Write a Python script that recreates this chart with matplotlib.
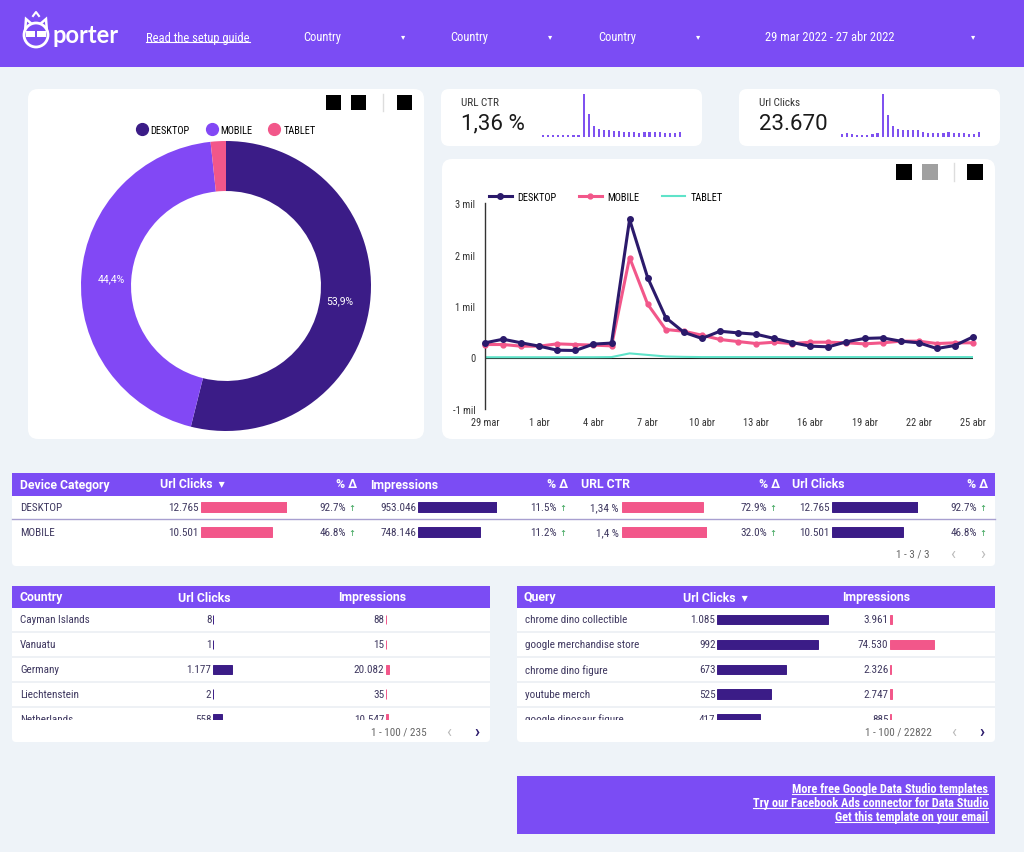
import matplotlib
matplotlib.use('Agg')
import matplotlib.pyplot as plt
from matplotlib import font_manager
from matplotlib.patches import FancyBboxPatch, Rectangle, Circle, Polygon
from matplotlib.lines import Line2D
from matplotlib.ticker import FuncFormatter

W, H = 1024, 853

PURPLE = '#7b4cf4'
BG = '#eef3f8'
DARK = '#3b1c87'
MOB = '#8248f5'
PINK = '#f2578a'
NAVY = '#2b1a6b'
CYAN = '#5fe3c9'
TXT = '#3f3860'
GREEN = '#2e9e4f'

_names = {f.name for f in font_manager.fontManager.ttflist}
COND = next((f for f in ['Roboto Condensed', 'Liberation Sans Narrow'] if f in _names), 'Roboto')
CONDF = [COND, 'DejaVu Sans']
plt.rcParams['font.family'] = ['Roboto', 'DejaVu Sans']

# ---- data ----
FILTERS = ['Country', 'Country', 'Country']
DATE_RANGE = '29 mar 2022 - 27 abr 2022'

DEVICES = ['DESKTOP', 'MOBILE', 'TABLET']
DEVICE_SHARE = [53.9, 44.4, 1.7]

KPI_CTR = 1.36
KPI_CLICKS = 23670
CTR_DAILY = [0.35, 0.4, 0.35, 0.3, 0.3, 0.3, 0.3, 0.4, 6.9, 3.7, 1.7, 1.3, 1.1, 1.1,
             1.0, 0.9, 0.85, 0.75, 0.75, 0.7, 0.75, 0.85, 0.8, 0.75, 0.7, 0.6, 0.6, 0.85]
CLICKS_DAILY = [320, 400, 320, 240, 240, 240, 320, 400, 4700, 2400, 1200, 880, 720, 800,
                720, 720, 560, 480, 400, 400, 480, 560, 480, 480, 400, 320, 320, 560]

DAY_LABELS = ['29 mar', '1 abr', '4 abr', '7 abr', '10 abr', '13 abr', '16 abr',
              '19 abr', '22 abr', '25 abr']
DESKTOP = [285, 355, 285, 220, 142, 136, 260, 280, 2680, 1550, 775, 490, 370, 510,
           478, 452, 370, 290, 220, 207, 305, 370, 381, 317, 285, 175, 233, 400]
MOBILE = [252, 252, 220, 220, 265, 252, 240, 226, 1940, 1035, 543, 510, 433, 350,
          310, 271, 297, 271, 297, 297, 285, 265, 285, 317, 317, 271, 285, 285]
TABLET = [5, 5, 5, 5, 5, 5, 5, 8, 80, 50, 20, 12, 8, 8,
          8, 8, 8, 8, 8, 8, 8, 8, 8, 8, 8, 8, 8, 8]

DEV_ROWS = ['DESKTOP', 'MOBILE']
DEV_CLICKS = [12765, 10501]
DEV_CLICKS_D = [92.7, 46.8]
DEV_IMPR = [953046, 748146]
DEV_IMPR_D = [11.5, 11.2]
DEV_CTR = [1.34, 1.4]
DEV_CTR_D = [72.9, 32.0]

COUNTRIES = ['Cayman Islands', 'Vanuatu', 'Germany', 'Liechtenstein', 'Netherlands']
COUNTRY_CLICKS = [8, 1, 1177, 2, 558]
COUNTRY_IMPR = [88, 15, 20082, 35, 10547]
COUNTRY_CLICK_SCALE = 6100
COUNTRY_IMPR_SCALE = 608000

QUERIES = ['chrome dino collectible', 'google merchandise store', 'chrome dino figure',
           'youtube merch', 'google dinosaur figure']
QUERY_CLICKS = [1085, 992, 673, 525, 417]
QUERY_IMPR = [3961, 74530, 2326, 2747, 885]
QUERY_IMPR_SCALE = 169400

LINKS = ['More free Google Data Studio templates',
         'Try our Facebook Ads connector for Data Studio',
         'Get this template on your email']


def fmt_int(v):
    return f'{v:,}'.replace(',', '.')


def fmt_ctr(v):
    return f'{v:g} %'.replace('.', ',')


fig = plt.figure(figsize=(W / 100, H / 100), dpi=100)
fig.patch.set_facecolor(BG)
page = fig.add_axes([0, 0, 1, 1])
page.set_xlim(0, W)
page.set_ylim(H, 0)
page.axis('off')


def px_axes(x, y, w, h):
    return fig.add_axes([x / W, 1 - (y + h) / H, w / W, h / H])


def card(x, y, w, h, r=8, fc='white'):
    page.add_patch(FancyBboxPatch((x + r, y + r), w - 2 * r, h - 2 * r,
                                  boxstyle=f'round,pad={r}', fc=fc, ec='none'))


def bar_col(x, w, top, bottom, ys, vals, vmax, color, h):
    ax = px_axes(x - 2, top, w + 2, bottom - top)
    ax.set_xlim(-2 * vmax / w, vmax)
    ax.set_ylim(bottom, top)
    ax.barh(ys, vals, height=h, color=color, ec=color, lw=0.7)
    ax.axis('off')
    return ax


UNDERLINED = []

# ---- header ----
page.add_patch(Rectangle((0, 0), W, 68, fc=PURPLE, ec='none'))
page.add_patch(Polygon([(25, 33), (26, 20), (33, 26), (39, 26), (46, 20), (47, 33)],
                       fc=PURPLE, ec='white', lw=1.8))
page.add_patch(Circle((36, 36), 12, fc=PURPLE, ec='white', lw=2))
page.add_patch(Rectangle((26, 32), 9, 6, fc='white', ec='none'))
page.add_patch(Rectangle((37, 32), 9, 6, fc='white', ec='none'))
page.plot([33, 36, 39], [17, 13, 17], color='white', lw=1.5)
page.text(52, 35, 'porter', color='white', fontsize=17, fontweight='bold',
          family=['Lato', 'DejaVu Sans'], va='center', ha='left')
UNDERLINED.append(page.text(146, 38, 'Read the setup guide', color='white', fontsize=9,
                            family=CONDF, va='center'))
for x, label in zip([303, 450, 598], FILTERS):
    page.text(x, 37, label, color='white', fontsize=9, family=CONDF, va='center')
    page.text(x + 100, 37, '▾', color='white', fontsize=6, family=['DejaVu Sans'],
              va='center', ha='center')
page.text(765, 37, DATE_RANGE, color='white', fontsize=9, family=CONDF, va='center')
page.text(973, 37, '▾', color='white', fontsize=6, family=['DejaVu Sans'],
          va='center', ha='center')

# ---- cards ----
card(28, 90, 396, 350, r=10)
card(441, 90, 261, 57, r=8)
card(739, 90, 261, 57, r=8)
card(442, 160, 553, 280, r=10)

for x in (326, 351, 397):
    page.add_patch(Rectangle((x, 96), 15, 15, fc='black'))
page.plot([383, 383], [95, 112], color='#dddddd', lw=1)
for x, c in ((896, 'black'), (922, '#a0a0a0'), (967, 'black')):
    page.add_patch(Rectangle((x, 165), 16, 16, fc=c))
page.plot([954, 954], [164, 182], color='#dddddd', lw=1)

# ---- donut ----
dax = px_axes(81, 142, 290, 290)
dax.pie(DEVICE_SHARE, colors=[DARK, MOB, PINK], startangle=90, counterclock=False,
        wedgeprops=dict(width=0.345, linewidth=0),
        autopct=lambda p: f'{p:.1f}%'.replace('.', ',') if p > 5 else '',
        pctdistance=0.79, textprops=dict(color='white', fontsize=7.5))
dax.set_xlim(-1, 1)
dax.set_ylim(-1, 1)
handles = [Line2D([], [], ls='', marker='o', ms=8.5, color=c) for c in (DARK, MOB, PINK)]
dax.legend(handles, DEVICES, loc='center', bbox_to_anchor=(0.5, 1 + 11 / 290), ncol=3,
           frameon=False, handletextpad=0.35, columnspacing=1.6, handlelength=1,
           prop={'family': CONDF, 'size': 7.5})

# ---- KPI cards ----
page.text(461, 103, 'URL CTR', fontsize=8, color='#333333', va='center', family=CONDF)
page.text(461, 124, fmt_ctr(KPI_CTR), fontsize=16, color='#1a1a1a', va='center')
page.text(759, 103, 'Url Clicks', fontsize=8, color='#333333', va='center', family=CONDF)
page.text(759, 124, fmt_int(KPI_CLICKS), fontsize=16, color='#1a1a1a', va='center')

for (x, vals) in ((540, CTR_DAILY), (839, CLICKS_DAILY)):
    sx = px_axes(x, 95, 143, 43)
    sx.bar(range(len(vals)), vals, width=0.42, color='#7f52f0')
    sx.set_xlim(-0.6, len(vals) - 0.4)
    sx.set_ylim(0, max(vals))
    sx.axis('off')

# ---- line chart ----
lx = px_axes(485, 204, 488, 206)
lx.patch.set_alpha(0)
days = range(len(DESKTOP))
lx.axhline(0, color='#222222', lw=0.8, zorder=1)
lx.plot(days, DESKTOP, color=NAVY, lw=2.2, marker='o', ms=4, label='DESKTOP',
        clip_on=False, zorder=4)
lx.plot(days, MOBILE, color=PINK, lw=2.2, marker='o', ms=3.5, label='MOBILE',
        clip_on=False, zorder=3)
lx.plot(days, TABLET, color=CYAN, lw=1.5, label='TABLET', zorder=2)
lx.set_xlim(0, len(DESKTOP) - 1)
lx.set_ylim(-1000, 3000)
lx.set_yticks([-1000, 0, 1000, 2000, 3000])
lx.yaxis.set_major_formatter(FuncFormatter(lambda v, _: '0' if v == 0 else f'{v / 1000:.0f} mil'))
lx.set_xticks(range(0, len(DESKTOP), 3), DAY_LABELS)
lx.tick_params(axis='y', length=0, labelsize=7.5, pad=7, labelcolor='#333333')
lx.tick_params(axis='x', length=0, labelsize=7.5, pad=6, labelcolor='#333333')
for lab in lx.get_xticklabels() + lx.get_yticklabels():
    lab.set_family(CONDF)
for s in ('top', 'right', 'bottom'):
    lx.spines[s].set_visible(False)
lx.spines['left'].set_color('#333333')
lx.spines['left'].set_linewidth(1)
lx.legend(loc='lower left', bbox_to_anchor=(-0.005, 0.975), ncol=3, frameon=False,
          handlelength=2.2, handletextpad=0.5, columnspacing=2.2, borderaxespad=0.2,
          prop={'family': CONDF, 'size': 7.5})

# ---- device table ----
card(12, 474, 983, 93, r=4)
page.add_patch(Rectangle((12, 474), 983, 23, fc=PURPLE, ec='none'))
HEAD_KW = dict(color='white', fontsize=8.8, fontweight='bold', va='center')
for label, x, ha in (('Device Category', 20, 'left'), ('Url Clicks  ▾', 160, 'left'),
                     ('% Δ', 357, 'right'), ('Impressions', 370, 'left'),
                     ('% Δ', 568, 'right'), ('URL CTR', 581, 'left'),
                     ('% Δ', 780, 'right'), ('Url Clicks', 792, 'left'),
                     ('% Δ', 988, 'right')):
    page.text(x, 485, label, ha=ha, **HEAD_KW)

ROW_KW = dict(color=TXT, fontsize=8, va='center', family=CONDF)
DEV_Y = [508, 533]


def delta(x, y, v):
    page.text(x, y, f'{v:.1f}%', ha='right', **ROW_KW)
    page.text(x + 6, y + 0.5, '↑', ha='center', color=GREEN, fontsize=6, va='center',
              family=['DejaVu Sans'])


for i, name in enumerate(DEV_ROWS):
    y = DEV_Y[i]
    page.text(20, y, name, ha='left', **ROW_KW)
    page.text(199, y, fmt_int(DEV_CLICKS[i]), ha='right', **ROW_KW)
    delta(346, y, DEV_CLICKS_D[i])
    page.text(416, y, fmt_int(DEV_IMPR[i]), ha='right', **ROW_KW)
    delta(557, y, DEV_IMPR_D[i])
    page.text(619, y, fmt_ctr(DEV_CTR[i]), ha='right', **ROW_KW)
    delta(767, y, DEV_CTR_D[i])
    page.text(830, y, fmt_int(DEV_CLICKS[i]), ha='right', **ROW_KW)
    delta(977, y, DEV_CLICKS_D[i])
page.plot([12, 995], [520, 520], color='#a89fd0', lw=1)
page.text(930, 555, '1 - 3 / 3', ha='right', va='center', color='#666666', fontsize=8,
          family=CONDF)
page.text(953, 555, '‹', ha='center', va='center', color='#bbbbbb', fontsize=12)
page.text(983, 555, '›', ha='center', va='center', color='#bbbbbb', fontsize=12)

bar_col(201, 86, 496, 546, DEV_Y, DEV_CLICKS, max(DEV_CLICKS), PINK, 10)
bar_col(418, 79, 496, 546, DEV_Y, DEV_IMPR, max(DEV_IMPR), DARK, 10)
bar_col(622, 85, 496, 546, DEV_Y, DEV_CTR, max(DEV_CTR), PINK, 10)
bar_col(832, 86, 496, 546, DEV_Y, DEV_CLICKS, max(DEV_CLICKS), DARK, 10)

# ---- country / query tables ----
ROW_Y = [620.5, 645.5, 670.3, 695, 720]
SEP_Y = [633, 658, 683, 708]
TOP, BOTTOM = 609, 721


def table(x0, w, heads, names, vals1, vals2, c1x, c2x, s1, s2, footer):
    card(x0, 587, w, 156, r=4)
    page.add_patch(Rectangle((x0, 587), w, 22, fc=PURPLE, ec='none'))
    for label, x, ha in heads:
        page.text(x, 598, label, ha=ha, **HEAD_KW)
    rows = px_axes(x0, TOP, w, BOTTOM - TOP)
    rows.set_xlim(x0, x0 + w)
    rows.set_ylim(BOTTOM, TOP)
    rows.axis('off')
    for y in SEP_Y:
        rows.plot([x0, x0 + w], [y, y], color='#edf0f5', lw=1.3)
    for i, name in enumerate(names):
        y = ROW_Y[i]
        rows.text(x0 + 8, y, name, ha='left', clip_on=True, **ROW_KW)
        rows.text(c1x - 1.5, y, fmt_int(vals1[i]), ha='right', clip_on=True, **ROW_KW)
        rows.text(c2x - 1.5, y, fmt_int(vals2[i]), ha='right', clip_on=True, **ROW_KW)
    bar_col(c1x, 112, TOP, BOTTOM, ROW_Y, vals1, s1, DARK, 9.5)
    bar_col(c2x, 100, TOP, BOTTOM, ROW_Y, vals2, s2, PINK, 9.5)
    fx = x0 + w
    page.text(fx - 63, 732, footer, ha='right', va='center', color='#666666', fontsize=8,
              family=CONDF)
    page.text(fx - 41, 732, '‹', ha='center', va='center', color='#bbbbbb', fontsize=12)
    page.text(fx - 13, 732, '›', ha='center', va='center', color='#2b1a6b', fontsize=12,
              fontweight='bold')


table(12, 478, (('Country', 20, 'left'), ('Url Clicks', 204, 'center'),
                ('Impressions', 372, 'center')),
      COUNTRIES, COUNTRY_CLICKS, COUNTRY_IMPR, 213, 386,
      COUNTRY_CLICK_SCALE * 112 / 100, COUNTRY_IMPR_SCALE, '1 - 100 / 235')
table(517, 478, (('Query', 524, 'left'), ('Url Clicks  ▾', 683, 'left'),
                 ('Impressions', 876, 'center')),
      QUERIES, QUERY_CLICKS, QUERY_IMPR, 717, 890,
      max(QUERY_CLICKS) * 112 / 111, QUERY_IMPR_SCALE, '1 - 100 / 22822')

# ---- footer links ----
page.add_patch(Rectangle((517, 777), 478, 58, fc=PURPLE, ec='none'))
for y, s in zip([790, 804, 818], LINKS):
    UNDERLINED.append(page.text(988, y, s, ha='right', va='center', color='white',
                                fontsize=8.8, fontweight='bold', family=CONDF))

fig.canvas.draw()
for t in UNDERLINED:
    bb = t.get_window_extent()
    y = bb.y0 + 1.5
    fig.add_artist(Line2D([bb.x0 / W, bb.x1 / W], [y / H, y / H], transform=fig.transFigure,
                          color='white', lw=0.8))

fig.savefig('out.png', dpi=100, facecolor=BG)
